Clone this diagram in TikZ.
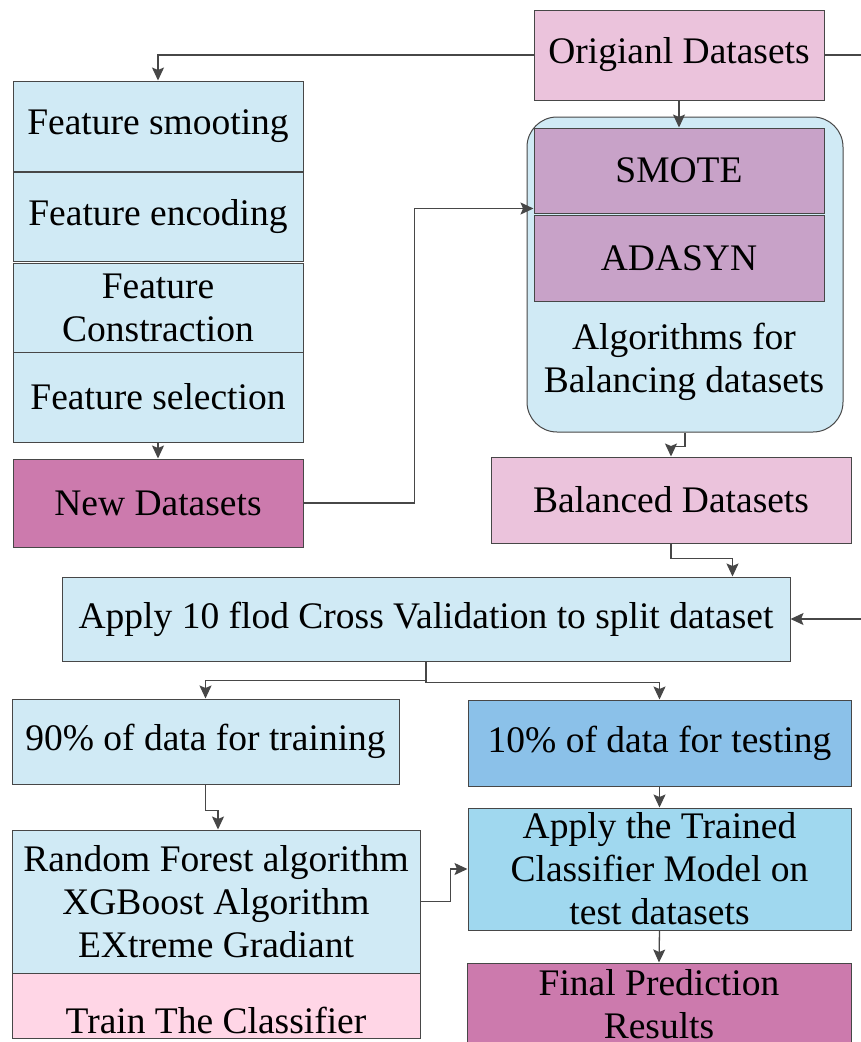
\documentclass[tikz,border=0pt]{standalone}
\usepackage{fontspec}
\setmainfont{Liberation Serif}
\usetikzlibrary{arrows.meta}

\definecolor{stroke}{HTML}{474747}
\definecolor{paleblue}{HTML}{D0EAF5}
\definecolor{palepink}{HTML}{EBC3DC}
\definecolor{lilac}{HTML}{C8A2C8}
\definecolor{mauve}{HTML}{CC7AAD}
\definecolor{midblue}{HTML}{8BC1E9}
\definecolor{skyblue}{HTML}{A0D8EF}
\definecolor{blush}{HTML}{FFD6E6}

\tikzset{
  box/.style={draw=stroke, line width=1pt, inner sep=0pt, align=center,
    font=\fontsize{37.5}{43}\selectfont, text=black},
  arr/.style={draw=stroke, line width=1.3pt, -{Stealth[length=13pt,width=12pt,inset=2.5pt]}},
  wire/.style={draw=stroke, line width=1.3pt},
}

\begin{document}
\begin{tikzpicture}[x=1pt,y=-1pt]
\useasboundingbox (0,0) rectangle (861,1042);
\fill[white] (0,0) rectangle (861,1042);

% right-hand column: source data and balancing
\node[box, fill=palepink, minimum width=290, minimum height=90] (orig) at (679,55) {Origianl Datasets};
\node[box, fill=paleblue, rounded corners=30pt, minimum width=316, minimum height=315] (cont) at (685,274.5) {};
\node[box, fill=lilac, minimum width=290, minimum height=85] (smote) at (679,170.5) {SMOTE};
\node[box, fill=lilac, minimum width=290, minimum height=86] (adasyn) at (679,258) {ADASYN};
\node[box, draw=none] (algtxt) at (684,362) {Algorithms for\\Balancing datasets};
\node[box, fill=palepink, minimum width=360, minimum height=86] (balanced) at (671,500) {Balanced Datasets};

% left-hand column: feature engineering
\node[box, fill=paleblue, minimum width=290, minimum height=90] (fsmooth) at (158,126) {Feature smooting};
\node[box, fill=paleblue, minimum width=290, minimum height=89] (fenc) at (158,216.5) {Feature encoding};
\node[box, fill=paleblue, minimum width=290, minimum height=89] (fcons) at (158,307.5) {Feature\\Constraction};
\node[box, fill=paleblue, minimum width=290, minimum height=90] (fsel) at (158,397) {Feature selection};
\node[box, fill=mauve, minimum width=290, minimum height=88] (newds) at (158,503) {New Datasets};

% cross validation and model stages
\node[box, fill=paleblue, minimum width=728, minimum height=84] (apply) at (426,619) {Apply 10 flod Cross Validation to split dataset};
\node[box, fill=paleblue, minimum width=387, minimum height=85] (train90) at (205.5,741.5) {90\% of data for training};
\node[box, fill=midblue, minimum width=383, minimum height=86] (test10) at (659.5,743) {10\% of data for testing};
\node[box, fill=paleblue, minimum width=408, minimum height=143] (rf) at (216,901.5) {Random Forest algorithm\\XGBoost Algorithm\\EXtreme Gradiant};
\node[box, fill=blush, minimum width=408, minimum height=65,
  label={[box, draw=none, yshift=-15pt]center:Train The Classifier}] (trainc) at (216,1005.5) {};
\node[box, fill=skyblue, minimum width=383, minimum height=122] (atc) at (659.5,869) {Apply the Trained\\Classifier Model on\\test datasets};
\node[box, fill=mauve, minimum width=384, minimum height=83] (final) at (659,1004.5) {Final Prediction\\Results};

% loose ends running off the right border
\coordinate (outA) at (861,55);
\coordinate (outB) at (861,619);

% connectors
\draw[arr] (orig.west) -| (fsmooth.north);
\draw[wire] (orig.east) -- (outA);
\draw[arr] (orig.south) -- (smote.north);
\draw[arr] (fsel.south) -- (newds.north);
\draw[arr] (newds.east) -- ++(111,0) |- ([yshift=5pt]smote.south west);
\draw[arr] (cont.south) -- ++(0,14) -| (balanced.north);
\draw[arr] (balanced.south) -- ++(0,15) -| ([xshift=-58pt]apply.north east);
\draw[arr] (outB) -- (apply.east);
\draw[arr] (apply.south) -- ++(0,19) -| (train90.north);
\draw[arr] (apply.south) -- ++(0,21) -| (test10.north);
\draw[arr] (train90.south) -- ++(0,26) -| ([xshift=2pt]rf.north);
\draw[arr] (test10.south) -- (atc.north);
\draw[arr] (rf.east) -- ++(30,0) |- (atc.west);
\draw[arr] (atc.south) -- (final.north);
\end{tikzpicture}
\end{document}
